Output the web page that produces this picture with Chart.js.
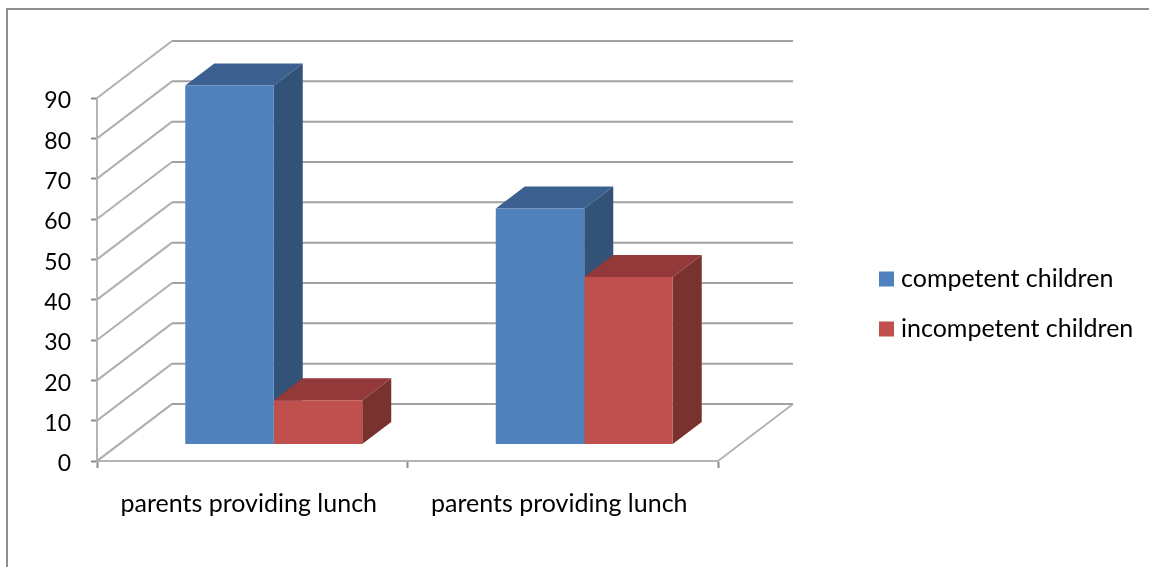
<!DOCTYPE html>
<html>
<head>
<meta charset="utf-8">
<style>
html,body{margin:0;padding:0;background:#fff;overflow:hidden}
#wrap{position:absolute;left:0;top:0;width:1149px;height:567px}
canvas{filter:blur(0.45px)}
</style>
<script src="https://cdn.jsdelivr.net/npm/chart.js@4/dist/chart.umd.min.js"></script>
</head>
<body>
<div id="wrap"><canvas id="c" width="1149" height="567"></canvas></div>
<script>
const categories = ['parents providing lunch', 'parents providing lunch'];
const competent = [89, 58.5];
const incompetent = [11, 41.5];
const yMax = 90;
const yStep = 10;
const seriesNames = ['competent children', 'incompetent children'];
const frontColors = ['#4f81bd', '#c0504d'];
const sideColors = ['#325277', '#7a322f'];
const topColors = ['#3b6090', '#93393a'];

const FONT_Y = {family: 'Lato', size: 23};
const FONT = {family: 'Lato', size: 25};
const WALL = {dx: 75, dy: -57};
const BAR_SHIFT = {dx: 21.5, dy: -16.5};
const BAR_DEPTH = {dx: 29, dy: -22};
const LEGEND_LEFT = 859.5;
const LEGEND_LIFT = 8.5;

function poly(ctx, pts, fill) {
  ctx.beginPath();
  pts.forEach((p, i) => i ? ctx.lineTo(p[0], p[1]) : ctx.moveTo(p[0], p[1]));
  ctx.closePath();
  ctx.fillStyle = fill;
  ctx.fill();
}

const scene3d = {
  id: 'scene3d',
  beforeLayout(chart) {
    const l = chart.legend;
    if (l && !l._patched) {
      const orig = l.update;
      l.update = function (w, h, m) { return orig.call(this, 320, h, m); };
      l._patched = true;
    }
  },
  afterLayout(chart) {
    const l = chart.legend;
    l.left = LEGEND_LEFT;
    l.right = l.left + l.width;
    l.top -= LEGEND_LIFT;
    l.bottom -= LEGEND_LIFT;
  },
  beforeDraw(chart) {
    const ctx = chart.ctx;
    ctx.save();
    ctx.strokeStyle = '#8f8f8f';
    ctx.lineWidth = 2;
    ctx.beginPath();
    ctx.moveTo(7, 567); ctx.lineTo(7, 9); ctx.lineTo(1149, 9);
    ctx.stroke();
    ctx.restore();
  },
  beforeDatasetsDraw(chart) {
    const ctx = chart.ctx, x = chart.scales.x, y = chart.scales.y;
    const L = x.left, R = x.right, B = y.getPixelForValue(0);
    ctx.save();
    ctx.lineWidth = 2;
    ctx.strokeStyle = '#b4b4b4';
    ctx.beginPath();
    ctx.moveTo(L, B);
    ctx.lineTo(L + WALL.dx, B + WALL.dy);
    ctx.moveTo(R, B);
    ctx.lineTo(R + WALL.dx, B + WALL.dy);
    ctx.stroke();
    y.ticks.forEach(t => {
      const py = y.getPixelForValue(t.value);
      ctx.strokeStyle = '#b0b0b0';
      ctx.beginPath();
      ctx.moveTo(L, py);
      ctx.lineTo(L + WALL.dx, py + WALL.dy);
      ctx.stroke();
      ctx.strokeStyle = '#a2a2a2';
      ctx.beginPath();
      ctx.moveTo(L + WALL.dx, py + WALL.dy);
      ctx.lineTo(R + WALL.dx, py + WALL.dy);
      ctx.stroke();
    });
    [0, 1].forEach(ds => {
      chart.getDatasetMeta(ds).data.forEach(bar => {
        const p = bar.getProps(['x', 'y', 'base', 'width'], true);
        const l = p.x - p.width / 2 + BAR_SHIFT.dx, r = p.x + p.width / 2 + BAR_SHIFT.dx;
        const t = p.y + BAR_SHIFT.dy, b = p.base + BAR_SHIFT.dy;
        const d = BAR_DEPTH;
        poly(ctx, [[r, t], [r + d.dx, t + d.dy], [r + d.dx, b + d.dy], [r, b]], sideColors[ds]);
        poly(ctx, [[l, t], [l + d.dx, t + d.dy], [r + d.dx, t + d.dy], [r, t]], topColors[ds]);
      });
    });
    ctx.restore();
  },
  beforeDatasetDraw(chart) {
    chart.ctx.save();
    chart.ctx.translate(BAR_SHIFT.dx, BAR_SHIFT.dy);
  },
  afterDatasetDraw(chart) {
    chart.ctx.restore();
  }
};

new Chart(document.getElementById('c'), {
  type: 'bar',
  data: {
    labels: categories,
    datasets: [
      {label: seriesNames[0], data: competent, backgroundColor: frontColors[0], categoryPercentage: 0.57, barPercentage: 1},
      {label: seriesNames[1], data: incompetent, backgroundColor: frontColors[1], categoryPercentage: 0.57, barPercentage: 1}
    ]
  },
  plugins: [scene3d],
  options: {
    responsive: false,
    animation: false,
    layout: {padding: {top: 98, bottom: 40, left: 0, right: 0}},
    plugins: {
      title: {display: false},
      tooltip: {enabled: false},
      legend: {
        position: 'right',
        labels: {
          color: '#000',
          font: FONT,
          boxWidth: 4,
          boxHeight: 4,
          padding: 25,
          generateLabels(chart) {
            return Chart.defaults.plugins.legend.labels.generateLabels(chart).map(item => {
              item.lineWidth = 11;
              item.strokeStyle = item.fillStyle;
              return item;
            });
          }
        }
      }
    },
    scales: {
      x: {
        grid: {drawOnChartArea: false, color: '#8c8c8c', tickLength: 7, tickWidth: 2},
        border: {color: '#b4b4b4', width: 2},
        ticks: {color: '#000', font: FONT, padding: 21, maxRotation: 0, labelOffset: -3.5},
        afterFit(s) { s.height = 66; }
      },
      y: {
        min: 0, max: yMax,
        grid: {drawOnChartArea: false, color: '#8c8c8c', tickLength: 6, tickWidth: 2},
        border: {color: '#b4b4b4', width: 2},
        ticks: {color: '#000', font: FONT_Y, padding: 20, stepSize: yStep, labelOffset: 3},
        afterFit(s) { s.width = 97; }
      },
      spacer: {
        type: 'linear', position: 'right', display: true,
        grid: {display: false, drawOnChartArea: false},
        border: {display: false},
        ticks: {display: false},
        afterFit(s) {
          const legendWidth = s.chart.legend ? s.chart.legend.width : 0;
          s.width = 1149 - 718 - legendWidth;
        }
      }
    }
  }
});
</script>
</body>
</html>
